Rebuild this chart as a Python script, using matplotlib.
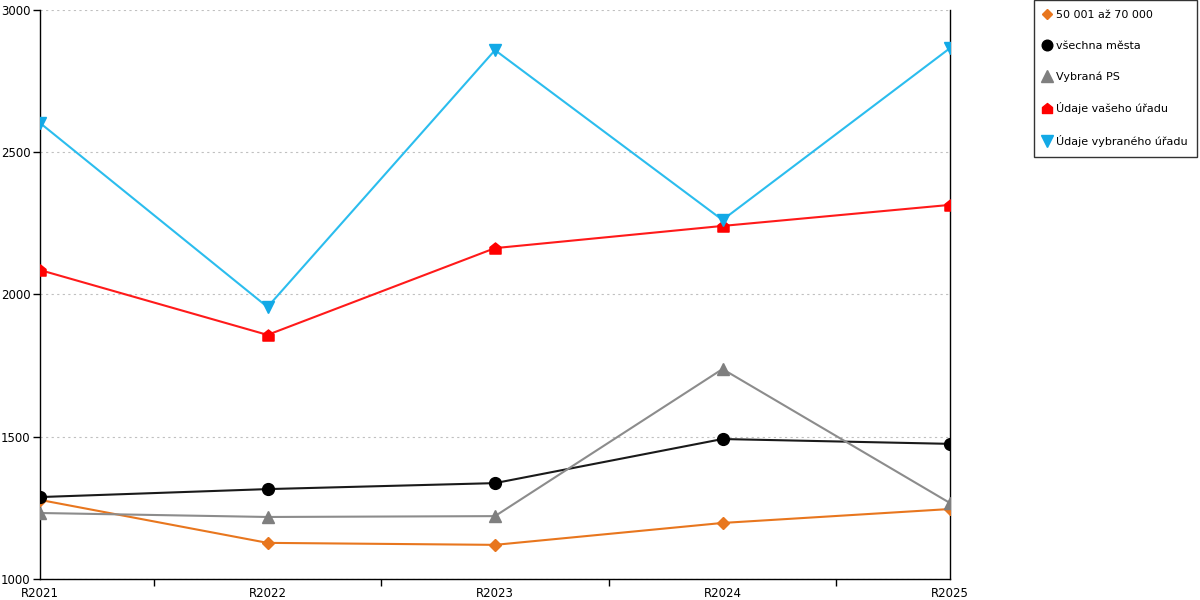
import matplotlib.pyplot as plt
from matplotlib.path import Path
from matplotlib.lines import Line2D

years = ['R2021', 'R2022', 'R2023', 'R2024', 'R2025']
size_group = [1278, 1127, 1120, 1197, 1246]
all_cities = [1288, 1316, 1337, 1492, 1475]
selected_ps = [1232, 1218, 1221, 1738, 1267]
your_office = [2086, 1858, 2163, 2241, 2315]
selected_office = [2603, 1956, 2859, 2262, 2866]

labels = ['50 001 až 70 000', 'všechna města', 'Vybraná PS',
          'Údaje vašeho úřadu', 'Údaje vybraného úřadu']

house = Path([(-1, -1), (1, -1), (1, 0.2), (0, 1), (-1, 0.2), (-1, -1)],
             [Path.MOVETO, Path.LINETO, Path.LINETO, Path.LINETO, Path.LINETO, Path.CLOSEPOLY])

series = [
    (size_group, '#E8761E', '#E8761E', 'D', 6),
    (all_cities, '#1a1a1a', '#000000', 'o', 8.5),
    (selected_ps, '#8c8c8c', '#7f7f7f', '^', 9),
    (your_office, '#FF1A1A', '#FF0000', house, 8),
    (selected_office, '#2BBDEE', '#12A9E6', 'v', 9),
]

fig = plt.figure(figsize=(12, 6), dpi=100)
ax = fig.add_axes([40 / 1200, 21 / 600, 910 / 1200, 569 / 600])

x = list(range(len(years)))
handles = []
for (vals, lc, mc, mk, ms), lab in zip(series, labels):
    ax.plot(x, vals, color=lc, linewidth=1.5, marker=mk, markersize=ms,
            markerfacecolor=mc, markeredgecolor=mc, zorder=3)
    handles.append(Line2D([], [], linestyle='none', marker=mk, markersize=ms * 0.9,
                          markerfacecolor=mc, markeredgecolor=mc, label=lab))

ax.set_xlim(0, 4)
ax.set_ylim(1000, 3000)
ax.set_yticks([1000, 1500, 2000, 2500, 3000])
ax.set_xticks(x)
ax.set_xticklabels(years)
ax.set_xticks([0.5, 1.5, 2.5, 3.5], minor=True)
ax.tick_params(axis='x', which='major', length=0, pad=6, labelsize=8.5)
ax.tick_params(axis='x', which='minor', length=5, width=1, direction='out')
ax.tick_params(axis='y', length=5, width=1, labelsize=8.5, pad=2)

ax.yaxis.grid(True, linestyle=(0, (2, 3)), color='#c0c0c0', linewidth=0.8)
ax.set_axisbelow(True)

ax.spines['top'].set_visible(False)
for s in ['left', 'right', 'bottom']:
    ax.spines[s].set_color('black')
    ax.spines[s].set_linewidth(1)

leg = fig.legend(handles=handles, loc='upper left', bbox_to_anchor=(1034 / 1200, 1.0),
                 frameon=True, fancybox=False, edgecolor='black', fontsize=8.0,
                 handlelength=0.5, handletextpad=0.55, labelspacing=1.85,
                 borderpad=0.9, borderaxespad=0)
leg.get_frame().set_linewidth(1)

fig.savefig('out.png', dpi=100)
